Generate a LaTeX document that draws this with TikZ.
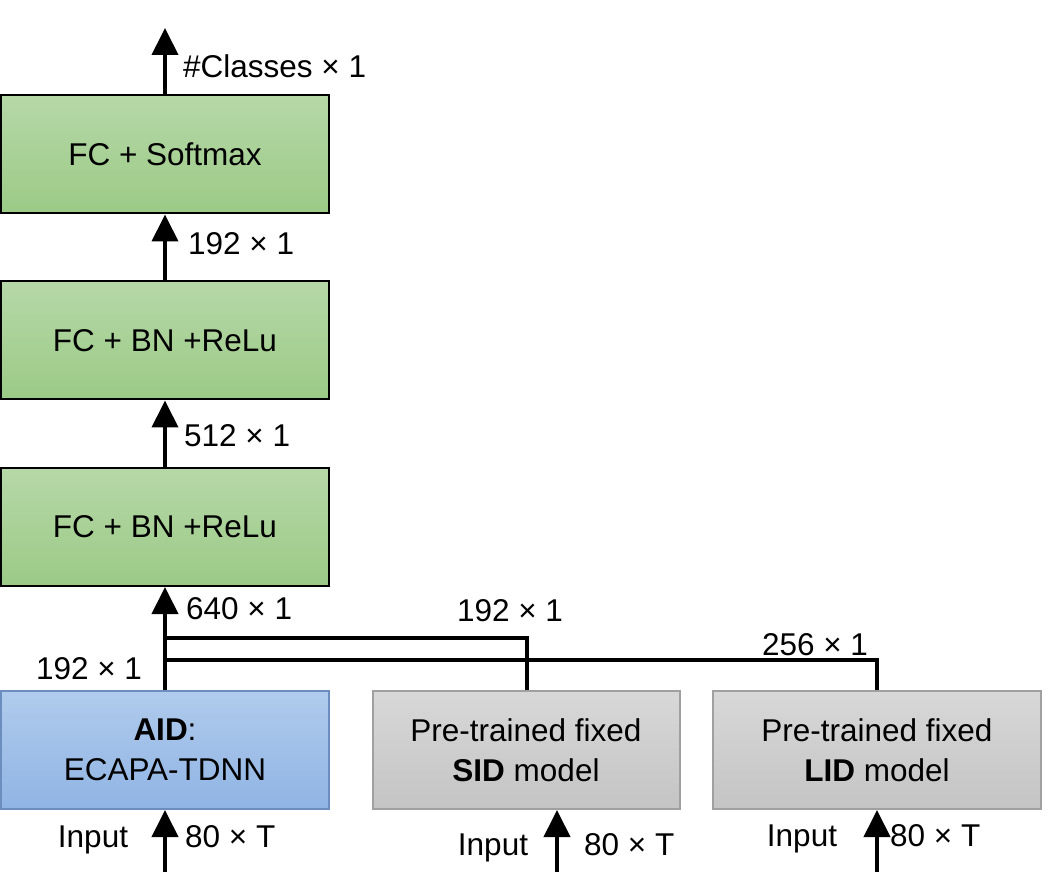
\documentclass[tikz,border=0pt]{standalone}
\usepackage{fontspec}
\setmainfont{Liberation Sans}
\usetikzlibrary{arrows.meta}
\definecolor{gtop}{HTML}{B6D8A8}
\definecolor{gbot}{HTML}{9BCA86}
\definecolor{btop}{HTML}{B0CBEC}
\definecolor{bbot}{HTML}{90B4E4}
\definecolor{bline}{HTML}{6C8EBF}
\definecolor{ytop}{HTML}{D8D8D8}
\definecolor{ybot}{HTML}{C4C4C4}
\definecolor{yline}{HTML}{A0A0A0}
\tikzset{
  box/.style={rectangle, minimum width=328pt, minimum height=118pt, inner sep=0pt, align=center, line width=2pt, font=\fontsize{31.5}{40}\selectfont},
  greenbox/.style={box, draw=black, top color=gtop, bottom color=gbot},
  bluebox/.style={box, draw=bline, top color=btop, bottom color=bbot},
  graybox/.style={box, draw=yline, top color=ytop, bottom color=ybot, minimum width=307pt},
  lbl/.style={inner sep=0pt, font=\fontsize{31.5}{38}\selectfont},
  arr/.style={line width=4pt, -{Triangle[length=27pt,width=26pt]}},
  wire/.style={line width=4pt},
}
\begin{document}
\begin{tikzpicture}[x=1pt,y=-1pt]
\useasboundingbox (0,0) rectangle (1061,882);
\node[greenbox] (b1) at (165,154.5) {FC + Softmax};
\node[greenbox] (b2) at (165,340.5) {FC + BN +ReLu};
\node[greenbox] (b3) at (165,527) {FC + BN +ReLu};
\node[bluebox] (aid) at (165,750) {\textbf{AID}:\\ECAPA-TDNN};
\node[graybox] (sid) at (526,750) {Pre-trained fixed\\\textbf{SID} model};
\node[graybox, minimum width=328pt] (lid) at (877,750) {Pre-trained fixed\\\textbf{LID} model};

\coordinate (out) at (165,28);
\draw[arr] (b1.north) -- (out);
\draw[arr] (b2) -- (b1);
\draw[arr] (b3) -- (b2);
\draw[arr] (aid) -- (b3);

\coordinate (j1) at (165,638);
\coordinate (j2) at (165,660);
\draw[wire] (sid.north -| 527,0) |- (j1);
\draw[wire] (lid.north) |- (j2);

\coordinate (in1) at (165,872);
\coordinate (in2) at (557,872);
\coordinate (in3) at (877,872);
\draw[arr] (in1) -- (aid.south);
\draw[arr] (in2) -- (in2 |- sid.south);
\draw[arr] (in3) -- (lid.south);

\node[lbl, anchor=west] (l1) at (183,66) {\#Classes × 1};
\node[lbl, anchor=west] (l2) at (188,244) {192 × 1};
\node[lbl, anchor=west] (l3) at (184,436) {512 × 1};
\node[lbl, anchor=west] (l4) at (186,609) {640 × 1};
\node[lbl] (l5) at (510,611) {192 × 1};
\node[lbl] (l6) at (815,645) {256 × 1};
\node[lbl] (l7) at (89,669) {192 × 1};

\node[lbl] (i1) at (93,840) {Input};
\node[lbl, anchor=west] (t1) at (185,837) {80 × T};
\node[lbl] (i2) at (493,848) {Input};
\node[lbl, anchor=west] (t2) at (584,845) {80 × T};
\node[lbl] (i3) at (802,839) {Input};
\node[lbl, anchor=west] (t3) at (890,836) {80 × T};
\end{tikzpicture}
\end{document}
